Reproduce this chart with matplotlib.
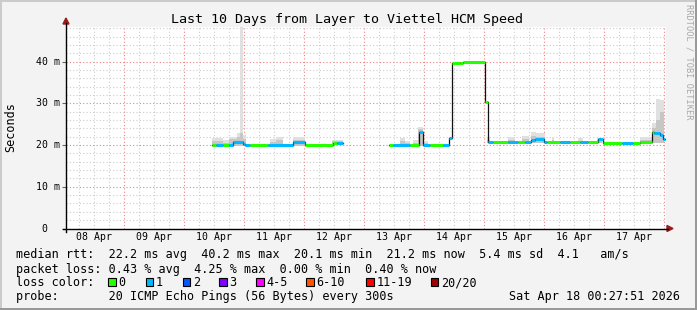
import numpy as np
import matplotlib
matplotlib.use("Agg")
import matplotlib.pyplot as plt
from matplotlib.patches import Rectangle, Polygon
from matplotlib.lines import Line2D

W, H = 697, 310
MONO = "DejaVu Sans Mono"

# median rtt steps, time in hours since 08 Apr 00:00
seg_t = [59.1, 60.7, 63.5, 65.9, 67.5, 71.5, 72.3, 74.3, 81.5, 91.5,
         96.3, 107.5, 109.1, 111.5, 129.9, 131.5, 138.3, 141.9, 143.5, 146.3,
         151.5, 153.9, 155.1, 158.3, 159.5, 168.1, 169.3, 171.5, 177.5, 181.5,
         184.3, 186.7, 188.3, 191.9, 193.1, 198.3, 202.3, 206.3, 209.5, 213.5,
         215.5, 223.1, 227.5, 230.3, 235.1, 235.9, 237.1, 238.3, 239.5]
seg_ms = [20.1, 20.1, 20.1, 20.1, 20.8, 20.3, 20.1, 20.1, 20.1, 20.7,
          20.1, 20.4, 20.6, np.nan, 20.0, 20.0, 20.0, 23.2, 20.0, 20.0,
          20.0, 21.6, 39.6, 39.8, 40.0, 30.4, 20.8, 20.8, 20.8, 20.8,
          20.8, 21.2, 21.5, 20.8, 20.8, 20.8, 20.8, 20.8, 20.8, 21.4,
          20.4, 20.4, 20.4, 20.8, 23.2, 22.8, 23.0, 22.5, 21.5]
seg_loss = [0, 1, 0, 1, 1, 1, 1, 0, 1, 1,
            0, 0, 1, -1, 0, 1, 0, 1, 1, 0,
            1, 1, 0, 0, 0, 0, 1, 0, 1, 0,
            1, 1, 1, 1, 0, 1, 0, 1, 0, 1,
            0, 1, 0, 0, 0, 1, 1, 1, 1]
t_end = 240.3

# smoke blocks (spread of the pings)
smoke_t0 = [59.1, 63.5, 65.9, 69.1, 70.3, 71.5, 82.3, 84.7, 91.5, 107.1,
            134.3, 136.3, 139.5, 141.5, 143.5, 169.1, 177.5, 183.1, 186.7, 188.7,
            195.1, 205.5, 213.1, 230.3, 235.1, 236.7, 238.3]
smoke_t1 = [63.5, 65.9, 69.1, 70.3, 71.5, 72.7, 84.7, 87.5, 96.3, 111.5,
            136.3, 138.3, 141.5, 143.5, 145.5, 170.3, 180.3, 185.9, 188.7, 192.3,
            195.9, 207.5, 215.1, 235.1, 236.7, 238.3, 239.9]
smoke_lo = [19.9, 19.9, 19.9, 19.9, 19.9, 19.9, 19.9, 19.9, 19.9, 20.1,
            19.8, 19.8, 19.8, 19.8, 19.8, 20.6, 20.6, 20.6, 20.6, 20.6,
            20.6, 20.6, 20.6, 20.2, 20.6, 20.6, 20.6]
smoke_mid = [21.0, 20.6, 21.4, 22.0, 22.9, 21.5, 20.8, 21.2, 21.3, 20.9,
             21.0, 20.5, 20.6, 23.8, 20.5, 21.3, 21.3, 21.5, 22.3, 22.0,
             21.3, 21.1, 21.2, 21.3, 24.0, 26.0, 28.0]
smoke_hi = [21.6, 21.2, 22.0, 23.0, 48.4, 22.5, 21.5, 21.9, 21.9, 21.2,
            21.6, 20.9, 21.3, 24.3, 20.9, 21.9, 21.9, 22.2, 23.2, 22.8,
            21.9, 21.6, 21.8, 21.9, 25.2, 31.0, 30.8]

day_labels = ["08 Apr", "09 Apr", "10 Apr", "11 Apr", "12 Apr",
              "13 Apr", "14 Apr", "15 Apr", "16 Apr", "17 Apr"]
y_ticks = [0, 10, 20, 30, 40]

loss_names = ["0", "1", "2", "3", "4-5", "6-10", "11-19", "20/20"]
loss_colors = ["#26ff00", "#00b8ff", "#0059ff", "#7e00ff",
               "#ff00ff", "#ff5500", "#ff0000", "#a10000"]

title = "Last 10 Days from Layer to Viettel HCM Speed"
line_rtt = "median rtt:  22.2 ms avg  40.2 ms max  20.1 ms min  21.2 ms now  5.4 ms sd  4.1   am/s"
line_loss = "packet loss: 0.43 % avg  4.25 % max  0.00 % min  0.40 % now"
probe_txt = "probe:       20 ICMP Echo Pings (56 Bytes) every 300s"
stamp = "Sat Apr 18 00:27:51 2026"

t_start, t_stop = 0.46, 240.46
y_top = 48.44


def fx(px):
    return px / W


def fy(py):
    return 1 - py / H


fig = plt.figure(figsize=(W / 100, H / 100), dpi=100, facecolor="#f3f3f3")

# 3d frame
fig.patches.append(Rectangle((0, fy(2)), 1, 2 / H, transform=fig.transFigure, color="#cbcbcb", lw=0))
fig.patches.append(Rectangle((0, 0), fx(2), 1, transform=fig.transFigure, color="#cbcbcb", lw=0))
fig.patches.append(Rectangle((0, 0), 1, 2 / H, transform=fig.transFigure, color="#999999", lw=0))
fig.patches.append(Rectangle((fx(W - 2), 0), fx(2), 1, transform=fig.transFigure, color="#999999", lw=0))

ax = fig.add_axes([fx(65.5), fy(228.5), 600 / W, 202 / H])
ax.set_facecolor("white")
ax.set_xlim(t_start, t_stop)
ax.set_ylim(0, y_top)
for s in ax.spines.values():
    s.set_visible(False)

ax.set_xticks(np.arange(24, 241, 24))
ax.set_xticks(np.arange(6, 241, 6), minor=True)
ax.set_yticks(y_ticks)
ax.set_yticks(np.arange(0, 49, 2), minor=True)
ax.grid(which="minor", color="#cccccc", linestyle=(0, (1, 2)), lw=0.8)
ax.grid(which="major", color="#f08080", linestyle=(0, (1, 2)), lw=0.8)
ax.set_axisbelow(True)
ax.tick_params(which="both", labelbottom=False, labelleft=False, length=0)
ax.tick_params(axis="y", which="major", length=3, color="#666666")

# smoke
for t0, t1, lo, mid, hi in zip(smoke_t0, smoke_t1, smoke_lo, smoke_mid, smoke_hi):
    ax.bar(t0, hi - lo, width=t1 - t0, bottom=lo, align="edge", color="#e0e0e0", lw=0, zorder=2)
    ax.bar(t0, mid - lo, width=t1 - t0, bottom=lo, align="edge", color="#c6c6c6", lw=0, zorder=2)

# median line: thin dark step + loss coloured bands
ax.step(seg_t + [t_end], seg_ms + [seg_ms[-1]], where="post", color="#111111", lw=0.9, zorder=3)
ends = seg_t[1:] + [t_end]
for t0, t1, v, l in zip(seg_t, ends, seg_ms, seg_loss):
    if l < 0:
        continue
    lc = ax.hlines(v, t0, t1, colors=loss_colors[l], lw=2.2, zorder=4)
    lc.set_capstyle("butt")

# axes with arrows
fig.add_artist(Line2D([fx(63), fx(668)], [fy(228.5), fy(228.5)], color="black", lw=1.0))
fig.add_artist(Line2D([fx(66), fx(66)], [fy(231.5), fy(23)], color="black", lw=1.0))
fig.add_artist(Polygon([(fx(667), fy(225.5)), (fx(667), fy(231.5)), (fx(673), fy(228.5))],
                       closed=True, color="#9b1c1c", transform=fig.transFigure))
fig.add_artist(Polygon([(fx(63), fy(24)), (fx(69), fy(24)), (fx(66), fy(18))],
                       closed=True, color="#9b1c1c", transform=fig.transFigure))

# tick labels
for i, lab in enumerate(day_labels):
    ax.text(12 + 24 * i, -12 / 202 * y_top, lab, ha="center", va="baseline",
            fontsize=7.1, family=MONO)
ytr = ax.get_yaxis_transform()
for v in y_ticks:
    if v == 0:
        ax.text(-18.5 / 600, v, "0", transform=ytr, ha="right", va="center", fontsize=7.1, family=MONO)
    else:
        ax.text(-6 / 600, v, f"{v} m", transform=ytr, ha="right", va="center", fontsize=7.1, family=MONO)

fig.text(fx(10.5), fy(127.5), "Seconds", rotation=90, ha="center", va="center", fontsize=8.5, family=MONO)
fig.text(fx(347), fy(23.5), title, ha="center", va="baseline", fontsize=9.6, family=MONO)
fig.text(fx(688.5), fy(4), "RRDTOOL / TOBI OETIKER", rotation=270, ha="center", va="top",
         fontsize=6.2, family=MONO, color="#a8a8a8")

# legend
fig.text(fx(16), fy(258), line_rtt, ha="left", va="baseline", fontsize=8.5, family=MONO)
fig.text(fx(16), fy(272.5), line_loss, ha="left", va="baseline", fontsize=8.5, family=MONO)
fig.text(fx(16), fy(286), "loss color:", ha="left", va="baseline", fontsize=8.5, family=MONO)
box_x = [108.3, 145.7, 182.7, 219.3, 256, 306, 366, 430.7]
for bx, name, col in zip(box_x, loss_names, loss_colors):
    fig.patches.append(Rectangle((fx(bx), fy(285.5)), 7.5 / W, 7.5 / H, transform=fig.transFigure,
                                 facecolor=col, edgecolor="black", lw=0.8))
    fig.text(fx(bx + 10.3), fy(286), name, ha="left", va="baseline", fontsize=8.5, family=MONO)
fig.text(fx(16), fy(300.3), probe_txt, ha="left", va="baseline", fontsize=8.5, family=MONO)
fig.text(fx(680), fy(300.3), stamp, ha="right", va="baseline", fontsize=8.5, family=MONO)

fig.savefig("out.png", dpi=100, facecolor=fig.get_facecolor())
